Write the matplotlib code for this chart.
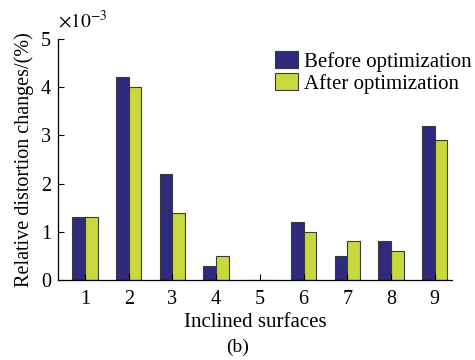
import numpy as np
import matplotlib.pyplot as plt

plt.rcParams['font.family'] = ['Liberation Serif', 'DejaVu Serif']
plt.rcParams['mathtext.fontset'] = 'stix'

# relative distortion changes, units of 1e-3 %
surfaces = [1, 2, 3, 4, 5, 6, 7, 8, 9]
before = [1.3, 4.2, 2.2, 0.3, 0.0, 1.2, 0.5, 0.8, 3.2]
after = [1.3, 4.0, 1.4, 0.5, 0.0, 1.0, 0.8, 0.6, 2.9]
yticks = [0, 1, 2, 3, 4, 5]

navy = '#2f2a7c'
lime = '#c9d83c'
edge = '#3a3a3a'

fig = plt.figure(figsize=(4.75, 3.6), dpi=100)
ax = fig.add_axes([0.122, 0.222, 0.83, 0.67])

x = np.array(surfaces)
w = 0.29
ax.bar(x - w / 2, before, w, color=navy, edgecolor=edge, linewidth=0.8,
       label='Before optimization')
ax.bar(x + w / 2, after, w, color=lime, edgecolor=edge, linewidth=0.8,
       label='After optimization')

ax.set_xlim(0.38, 9.4)
ax.set_ylim(0, 5)
ax.set_xticks(surfaces)
ax.set_yticks(yticks)
ax.tick_params(direction='in', length=4, labelsize=14.5, width=0.8)
ax.tick_params(axis='x', pad=7)
ax.tick_params(axis='y', pad=5)
for s in ['top', 'right']:
    ax.spines[s].set_visible(False)
for s in ['left', 'bottom']:
    ax.spines[s].set_linewidth(0.9)

ax.set_xlabel('Inclined surfaces', fontsize=15, labelpad=3)
ax.set_ylabel('Relative distortion changes/(%)', fontsize=14.5, labelpad=5)
ax.text(0.0, 1.03, r'$\times10^{-3}$', transform=ax.transAxes, fontsize=14,
        ha='left', va='bottom')

ax.legend(loc='upper right', bbox_to_anchor=(1.07, 0.985), frameon=False,
          fontsize=15, handlelength=1.1, handleheight=0.9, handletextpad=0.3,
          labelspacing=0.05, borderaxespad=0)

fig.text(0.5, 0.035, '(b)', fontsize=14, ha='center', va='center')

fig.savefig('out.png', dpi=100)
